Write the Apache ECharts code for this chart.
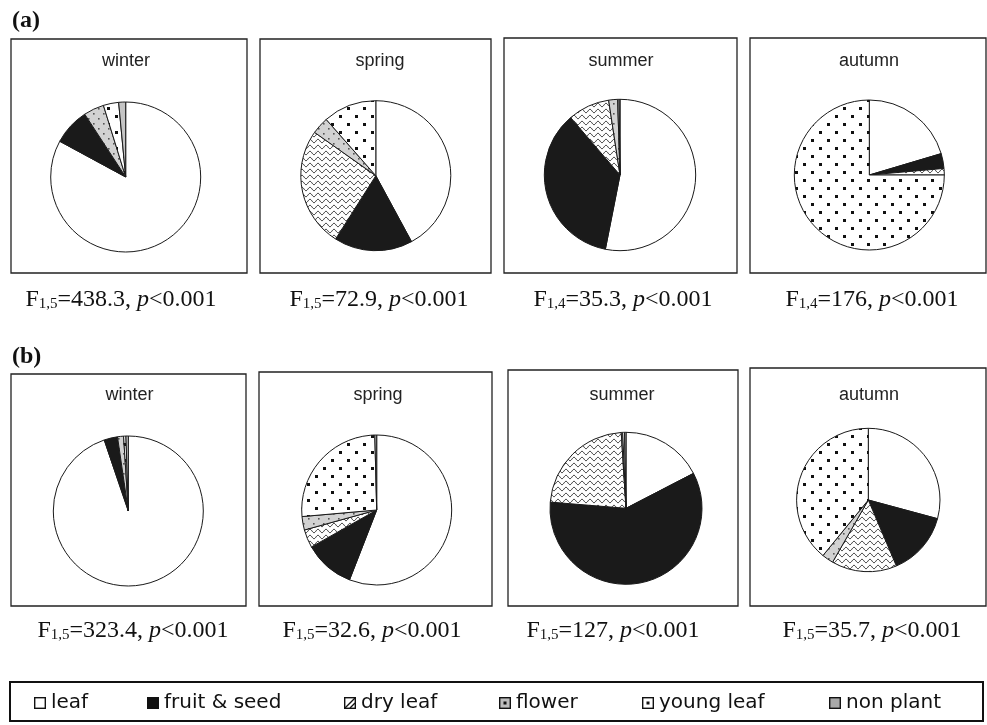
<!DOCTYPE html>
<html>
<head>
<meta charset="utf-8">
<script src="https://cdn.jsdelivr.net/npm/echarts@6/dist/echarts.min.js"></script>
<style>
  html, body { margin: 0; padding: 0; background: #fff; }
  #chart { width: 987px; height: 725px; }
</style>
</head>
<body>
<div id="chart"></div>
<script>
// Diet categories, in slice order (clockwise from 12 o'clock)
const categories = ['leaf', 'fruit & seed', 'dry leaf', 'flower', 'young leaf', 'non plant'];
const seasons = ['winter', 'spring', 'summer', 'autumn'];

// Panel (a): percentage of diet per category
const aWinter = [82.9, 7.9, 0, 4.4, 3.3, 1.5];
const aSpring = [42.1, 16.9, 25.8, 3.7, 11.5, 0];
const aSummer = [53.1, 35.6, 8.9, 1.9, 0.3, 0.2];
const aAutumn = [20.4, 3.2, 1.4, 0, 75.0, 0];

// Panel (b): percentage of diet per category
const bWinter = [94.8, 2.9, 0, 1.3, 0.5, 0.5];
const bSpring = [55.9, 10.9, 3.9, 2.9, 26.0, 0.4];
const bSummer = [17.4, 58.9, 22.7, 0.3, 0.4, 0.3];
const bAutumn = [29.2, 14.4, 14.7, 2.6, 39.1, 0];

// Test statistics under each pie: [degrees of freedom, F value]
const aStats = [['1,5', '438.3'], ['1,5', '72.9'], ['1,4', '35.3'], ['1,4', '176']];
const bStats = [['1,5', '323.4'], ['1,5', '32.6'], ['1,5', '127'], ['1,5', '35.7']];
const pText = '<0.001';

// ---- fill patterns ----
function tile(w, h, bg, draw) {
  const c = document.createElement('canvas');
  c.width = w; c.height = h;
  const ctx = c.getContext('2d');
  ctx.fillStyle = bg; ctx.fillRect(0, 0, w, h);
  if (draw) draw(ctx);
  return c;
}
const waveTile = tile(8, 6, '#ffffff', ctx => {
  ctx.strokeStyle = '#222'; ctx.lineWidth = 1;
  ctx.beginPath();
  for (let x = -1; x <= 9; x += 0.5) {
    const y = 3 + 1.7 * Math.sin(2 * Math.PI * x / 8);
    if (x === -1) ctx.moveTo(x, y); else ctx.lineTo(x, y);
  }
  ctx.stroke();
});
const dotTile = tile(16, 16, '#ffffff', ctx => {
  ctx.fillStyle = '#111';
  ctx.fillRect(3, 3, 3, 3);
  ctx.fillRect(11, 11, 3, 3);
});
const greyDotTile = tile(10, 10, '#d2d2d2', ctx => {
  ctx.fillStyle = '#555';
  ctx.fillRect(3, 3, 1.6, 1.6);
  ctx.fillRect(8, 8, 1.6, 1.6);
});
const fills = [
  '#ffffff',
  '#1a1a1a',
  { image: waveTile, repeat: 'repeat' },
  { image: greyDotTile, repeat: 'repeat' },
  { image: dotTile, repeat: 'repeat' },
  '#c4c4c4'
];

// ---- legend icons ----
function icon(kind) {
  const c = tile(12, 12, '#ffffff', ctx => {
    if (kind === 1) { ctx.fillStyle = '#111'; ctx.fillRect(0, 0, 12, 12); }
    if (kind === 3 || kind === 5) { ctx.fillStyle = kind === 3 ? '#bdbdbd' : '#a8a8a8'; ctx.fillRect(0, 0, 12, 12); }
    ctx.strokeStyle = '#111'; ctx.lineWidth = 1.4;
    ctx.strokeRect(0.7, 0.7, 10.6, 10.6);
    if (kind === 2) { ctx.beginPath(); ctx.moveTo(1, 11); ctx.lineTo(11, 1); ctx.moveTo(6, 11); ctx.lineTo(11, 6); ctx.stroke(); }
    if (kind === 3 || kind === 4) { ctx.fillStyle = '#111'; ctx.fillRect(4.5, 4.5, 3, 3); }
  });
  return 'image://' + c.toDataURL();
}

// ---- layout ----
const rowA = { vals: [aWinter, aSpring, aSummer, aAutumn], stats: aStats,
  boxes: [[11, 39, 247, 273], [260, 39, 491, 273], [504, 38, 737, 273], [750, 38, 986, 273]],
  pies: [[125.7, 177, 75], [375.8, 175.7, 75], [620, 175, 75.7], [869.3, 175, 75]],
  titleY: 61, titleX: [126, 380, 621, 869],
  statY: 300, statX: [121, 379, 623, 872] };
const rowB = { vals: [bWinter, bSpring, bSummer, bAutumn], stats: bStats,
  boxes: [[11, 374, 246, 606], [259, 372, 492, 606], [508, 370, 738, 606], [750, 368, 986, 606]],
  pies: [[128.3, 511, 75], [376.7, 510, 75], [626, 508.3, 76], [868.3, 500, 71.7]],
  titleY: 395, titleX: [129.5, 378, 622, 869],
  statY: 631, statX: [133, 372, 613, 872] };

const series = [];
const graphic = [];

[rowA, rowB].forEach(row => {
  row.vals.forEach((vals, i) => {
    const [cx, cy, r] = row.pies[i];
    const data = [];
    vals.forEach((v, k) => {
      if (v > 0) data.push({ name: categories[k], value: v, itemStyle: { color: fills[k] } });
    });
    series.push({
      type: 'pie', center: [cx, cy], radius: r, startAngle: 90, clockwise: true,
      silent: true, animation: false,
      label: { show: false }, labelLine: { show: false },
      itemStyle: { borderColor: '#1a1a1a', borderWidth: 1 },
      emphasis: { disabled: true },
      data
    });
    const [x0, y0, x1, y1] = row.boxes[i];
    graphic.push({ type: 'rect', shape: { x: x0, y: y0, width: x1 - x0, height: y1 - y0 },
      style: { fill: 'none', stroke: '#222', lineWidth: 1.3 }, silent: true });
    graphic.push({ type: 'text', x: row.titleX[i], y: row.titleY, silent: true,
      style: { text: seasons[i], align: 'center', verticalAlign: 'middle',
        fontFamily: 'Liberation Sans', fontSize: 18, fill: '#222' } });
    const [df, f] = row.stats[i];
    graphic.push({ type: 'text', x: row.statX[i], y: row.statY, silent: true,
      style: {
        text: '{n|F}{s|' + df + '}{n|=' + f + ', }{i|p}{n|' + pText + '}',
        align: 'center', verticalAlign: 'middle',
        rich: {
          n: { fontFamily: 'Liberation Serif', fontSize: 24, lineHeight: 24, verticalAlign: 'top', fill: '#111' },
          i: { fontFamily: 'Liberation Serif', fontSize: 24, lineHeight: 24, verticalAlign: 'top', fontStyle: 'italic', fill: '#111' },
          s: { fontFamily: 'Liberation Serif', fontSize: 15, lineHeight: 12, verticalAlign: 'bottom', fill: '#111' }
        }
      } });
  });
});

// panel letters
graphic.push({ type: 'text', x: 12, y: 21, silent: true,
  style: { text: '(a)', verticalAlign: 'middle', fontFamily: 'Liberation Serif', fontWeight: 'bold', fontSize: 24, fill: '#111' } });
graphic.push({ type: 'text', x: 12, y: 357, silent: true,
  style: { text: '(b)', verticalAlign: 'middle', fontFamily: 'Liberation Serif', fontWeight: 'bold', fontSize: 24, fill: '#111' } });
// legend frame
graphic.push({ type: 'rect', shape: { x: 10, y: 682, width: 973, height: 39 },
  style: { fill: 'none', stroke: '#111', lineWidth: 2 }, silent: true });

const legendX = [34, 147, 344, 499, 642, 829];
const legend = categories.map((name, k) => ({
  data: [{ name, icon: icon(k) }],
  left: legendX[k], top: 693, padding: 0,
  itemWidth: 12, itemHeight: 12, selectedMode: false,
  textStyle: { fontFamily: 'DejaVu Sans', fontSize: 20, color: '#111' }
}));

const chart = echarts.init(document.getElementById('chart'), null, { renderer: 'canvas' });
chart.setOption({
  backgroundColor: '#ffffff',
  animation: false,
  legend,
  series,
  graphic
});
</script>
</body>
</html>
